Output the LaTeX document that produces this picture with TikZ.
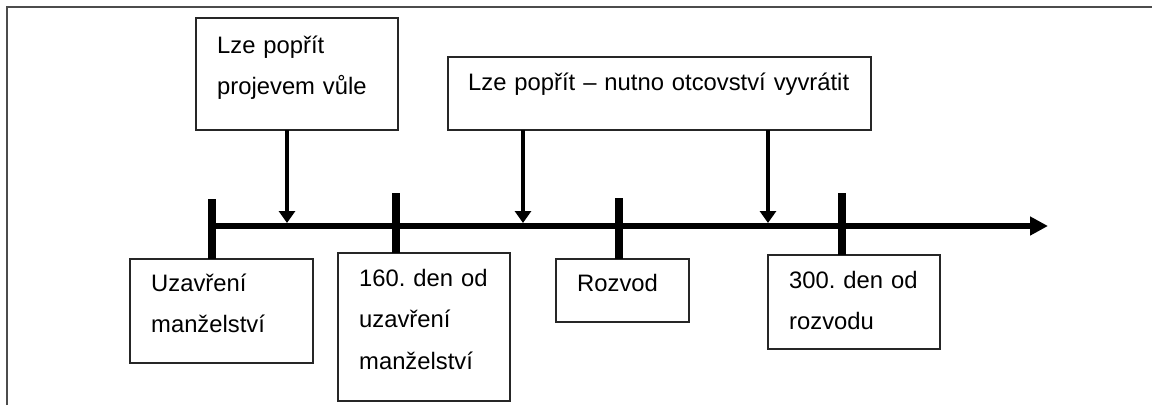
\documentclass[tikz,border=0pt]{standalone}
\usepackage{fontspec}
\setmainfont{Liberation Sans}
\usetikzlibrary{arrows.meta}
\frenchspacing
\begin{document}
\begin{tikzpicture}[x=1pt,y=-1pt,
  box/.style={draw=black!85, line width=1.4pt, anchor=north west, inner sep=0pt, outer sep=0pt},
  txt/.style={anchor=base west, inner sep=0pt, font=\fontsize{23.8}{41.5}\selectfont\frenchspacing, align=left, text width=#1},
  txt/.default=8cm,
  tick/.style={line width=8pt},
  timeline/.style={line width=6pt, -{Triangle[length=18pt,width=18pt]}},
  arr/.style={line width=3.5pt, -{Triangle[length=12pt,width=16pt]}, shorten >=0pt},
  frame/.style={draw=black!70, line width=2pt}]
\useasboundingbox (0,0) rectangle (1152,405);
% outer frame
\draw[frame] (7,405) -- (7,7) -- (1152,7);

% top boxes
\node[box, minimum width=202pt, minimum height=112pt] (b1) at (196,18) {};
\node[txt=170pt] (t1) at (217,53) {Lze popřít\\projevem vůle};
\node[box, minimum width=423pt, minimum height=73pt] (b2) at (448,57) {};
\node[txt=400pt] (t2) at (468,90) {Lze popřít – nutno otcovství vyvrátit};

% bottom boxes
\node[box, minimum width=183pt, minimum height=104pt] (c1) at (130,259) {};
\node[txt=150pt] (u1) at (151,291) {Uzavření\\manželství};
\node[box, minimum width=172pt, minimum height=148pt] (c2) at (338,253) {};
\node[txt=150pt] (u2) at (359,286) {160. den od\\uzavření\\manželství};
\node[box, minimum width=133pt, minimum height=63pt] (c3) at (556,259) {};
\node[txt=110pt] (u3) at (577,291) {Rozvod};
\node[box, minimum width=172pt, minimum height=94pt] (c4) at (768,255) {};
\node[txt=150pt] (u4) at (789,288) {300. den od\\rozvodu};

% timeline
\coordinate (tl0) at (208,226);
\coordinate (tl1) at (1048,226);
\draw[timeline] (tl0) -- (tl1);

% ticks
\coordinate (k1) at (212,199);
\coordinate (k2) at (396,193);
\coordinate (k3) at (619,198);
\coordinate (k4) at (842,193);
\draw[tick] (k1) -- (k1 |- c1.north);
\draw[tick] (k2) -- (k2 |- c2.north);
\draw[tick] (k3) -- (k3 |- c3.north);
\draw[tick] (k4) -- (k4 |- c4.north);

% arrows
\coordinate (a1) at (287,223);
\coordinate (a2) at (523,223);
\coordinate (a3) at (768,223);
\draw[arr] (b1.south -| a1) -- (a1);
\draw[arr] (b2.south -| a2) -- (a2);
\draw[arr] (b2.south -| a3) -- (a3);
\end{tikzpicture}
\end{document}
